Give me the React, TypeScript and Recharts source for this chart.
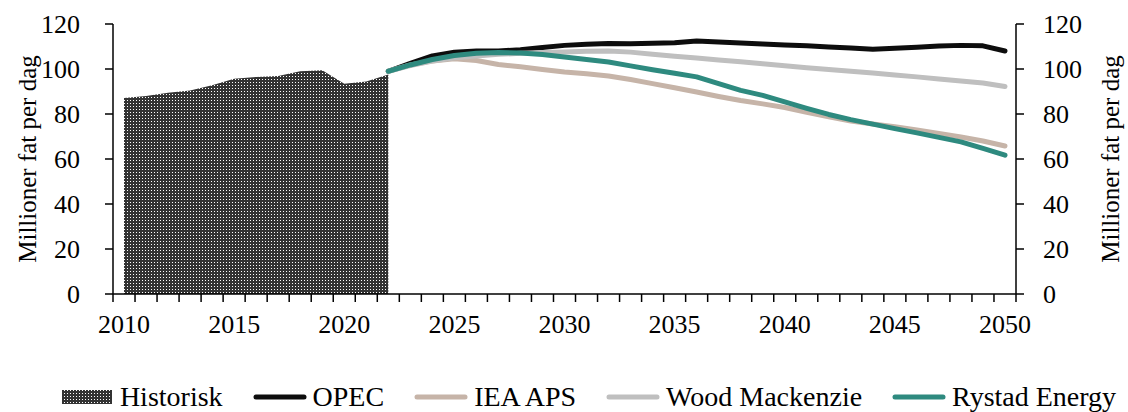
import React from "react";
import {
  ComposedChart,
  Area,
  Line,
  XAxis,
  YAxis,
  Legend,
} from "recharts";

const FONT = "'Liberation Serif', 'Times New Roman', serif";

const years = [
  2010, 2011, 2012, 2013, 2014, 2015, 2016, 2017, 2018, 2019, 2020, 2021, 2022,
  2023, 2024, 2025, 2026, 2027, 2028, 2029, 2030, 2031, 2032, 2033, 2034, 2035,
  2036, 2037, 2038, 2039, 2040, 2041, 2042, 2043, 2044, 2045, 2046, 2047, 2048,
  2049, 2050,
];

// 2010-2022
const historisk = [87.1, 88.0, 89.5, 90.5, 92.8, 95.7, 96.5, 96.9, 99.0, 99.4, 93.5, 94.5, 97.6];

// projections 2022-2050
const opec = [
  99, 102.5, 105.8, 107.5, 108, 108, 108.6, 109.6, 110.5, 111, 111.3, 111.2, 111.4, 111.7,
  112.4, 112, 111.6, 111.1, 110.7, 110.3, 109.8, 109.3, 108.8, 109.2, 109.7, 110.2, 110.5,
  110.3, 108,
];
const ieaAps = [
  99, 101.8, 103.6, 104.5, 103.8, 102, 101, 99.8, 98.7, 97.9, 96.9, 95.3, 93.5, 91.7, 89.8,
  87.8, 86, 84.5, 82.9, 80.8, 78.8, 76.9, 75.6, 74.3, 72.9, 71.4, 69.8, 68, 65.8,
];
const woodMac = [
  99, 101.5, 103.5, 105, 105.8, 106.5, 107, 107.3, 107.6, 107.9, 108, 107.5, 106.6, 105.7,
  104.9, 104, 103.2, 102.3, 101.4, 100.6, 99.8, 99, 98.2, 97.3, 96.5, 95.6, 94.7, 93.8, 92.2,
];
const rystad = [
  99, 101.8, 104.2, 106, 107, 107.3, 107.1, 106.4, 105.3, 104.2, 103.1, 101.4, 99.7, 98.1,
  96.5, 93.5, 90.5, 88.3, 85.4, 82.5, 79.8, 77.5, 75.5, 73.5, 71.6, 69.6, 67.6, 64.7, 61.7,
];

const seriesOrder = ["Historisk", "OPEC", "IEA APS", "Wood Mackenzie", "Rystad Energy"];

const yTicks = [0, 20, 40, 60, 80, 100, 120];
const xLabelTicks = [2010, 2015, 2020, 2025, 2030, 2035, 2040, 2045, 2050];
const xBoundaryTicks = [years[0] - 0.5, ...years.map((y) => y + 0.5)];
const xDomain = [years[0] - 0.5, years[years.length - 1] + 0.5];

const FIRST_PROJ = 2022;

const data = years.map((year, i) => {
  const p = year - FIRST_PROJ;
  return {
    year,
    historisk: i < historisk.length ? historisk[i] : null,
    opec: p >= 0 ? opec[p] : null,
    iea: p >= 0 ? ieaAps[p] : null,
    wood: p >= 0 ? woodMac[p] : null,
    rystad: p >= 0 ? rystad[p] : null,
  };
});

const COLORS = {
  opec: "#0d0d0d",
  iea: "#c6b4a8",
  wood: "#bfbfbf",
  rystad: "#2e8a7f",
};

const axisText = { fill: "#000", fontSize: 26, fontFamily: FONT };
const titleStyle = { textAnchor: "middle", fill: "#000", fontSize: 25, fontFamily: FONT };

function LegendContent({ payload }: any) {
  const items = [...(payload || [])].sort(
    (a: any, b: any) => seriesOrder.indexOf(a.value) - seriesOrder.indexOf(b.value)
  );
  return (
    <div
      style={{
        display: "flex",
        justifyContent: "center",
        alignItems: "center",
        gap: 30,
        height: 30,
        paddingLeft: 48,
        fontFamily: FONT,
        fontSize: 28,
        color: "#000",
      }}
    >
      {items.map((item: any) => (
        <div key={item.value} style={{ display: "flex", alignItems: "center" }}>
          <svg width={54} height={16} style={{ marginRight: 6 }}>
            {item.type === "rect" ? (
              <rect x={2} y={1} width={50} height={14} fill="url(#histPattern)" />
            ) : (
              <line
                x1={3}
                y1={8}
                x2={51}
                y2={8}
                stroke={item.color}
                strokeWidth={5}
                strokeLinecap="round"
              />
            )}
          </svg>
          <span>{item.value}</span>
        </div>
      ))}
    </div>
  );
}

export default function App() {
  return (
    <div style={{ position: "absolute", left: 0, top: 0, background: "#fff" }}>
      <ComposedChart
        width={1128}
        height={412}
        data={data}
        margin={{ top: 24, right: 0, bottom: 0, left: 0 }}
      >
        <defs>
          <pattern id="histPattern" width={3} height={3} patternUnits="userSpaceOnUse">
            <rect width={3} height={3} fill="#333333" />
            <rect x={1} y={1} width={1} height={1} fill="#ffffff" />
          </pattern>
        </defs>
        <XAxis
          xAxisId="ticks"
          dataKey="year"
          type="number"
          domain={xDomain}
          ticks={xBoundaryTicks}
          interval={0}
          tickFormatter={() => ""}
          tickSize={8}
          height={1}
          axisLine={{ stroke: "#000", strokeWidth: 1.5 }}
          tickLine={{ stroke: "#000", strokeWidth: 1.5 }}
        />
        <XAxis
          xAxisId="x"
          dataKey="year"
          type="number"
          domain={xDomain}
          ticks={xLabelTicks}
          interval={0}
          height={87}
          tickSize={0}
          tickMargin={20}
          axisLine={false}
          tickLine={false}
          tick={axisText}
        />
        <YAxis
          yAxisId="left"
          domain={[0, 120]}
          ticks={yTicks}
          width={113}
          tickSize={8}
          tickMargin={25}
          tick={axisText}
          axisLine={{ stroke: "#000", strokeWidth: 1.5 }}
          tickLine={{ stroke: "#000", strokeWidth: 1.5 }}
          label={{
            value: "Millioner fat per dag",
            angle: -90,
            position: "insideLeft",
            offset: 27,
            style: titleStyle,
          }}
        />
        <YAxis
          yAxisId="right"
          orientation="right"
          domain={[0, 120]}
          ticks={yTicks}
          width={112}
          tickSize={8}
          tickMargin={19}
          tick={axisText}
          axisLine={{ stroke: "#000", strokeWidth: 1.5 }}
          tickLine={{ stroke: "#000", strokeWidth: 1.5 }}
          label={{
            value: "Millioner fat per dag",
            angle: -90,
            position: "insideRight",
            offset: 18,
            style: titleStyle,
          }}
        />
        <Legend verticalAlign="bottom" content={<LegendContent />} />
        <Area
          xAxisId="ticks"
          yAxisId="left"
          dataKey="historisk"
          name="Historisk"
          type="linear"
          legendType="rect"
          stroke="none"
          fill="url(#histPattern)"
          fillOpacity={1}
          isAnimationActive={false}
        />
        <Line
          xAxisId="x"
          yAxisId="left"
          dataKey="opec"
          name="OPEC"
          type="linear"
          stroke={COLORS.opec}
          strokeWidth={5}
          strokeLinecap="round"
          strokeLinejoin="round"
          dot={false}
          activeDot={false}
          isAnimationActive={false}
        />
        <Line
          xAxisId="x"
          yAxisId="left"
          dataKey="iea"
          name="IEA APS"
          type="linear"
          stroke={COLORS.iea}
          strokeWidth={5}
          strokeLinecap="round"
          strokeLinejoin="round"
          dot={false}
          activeDot={false}
          isAnimationActive={false}
        />
        <Line
          xAxisId="x"
          yAxisId="right"
          dataKey="wood"
          name="Wood Mackenzie"
          type="linear"
          stroke={COLORS.wood}
          strokeWidth={5}
          strokeLinecap="round"
          strokeLinejoin="round"
          dot={false}
          activeDot={false}
          isAnimationActive={false}
        />
        <Line
          xAxisId="x"
          yAxisId="left"
          dataKey="rystad"
          name="Rystad Energy"
          type="linear"
          stroke={COLORS.rystad}
          strokeWidth={5}
          strokeLinecap="round"
          strokeLinejoin="round"
          dot={false}
          activeDot={false}
          isAnimationActive={false}
        />
      </ComposedChart>
    </div>
  );
}
